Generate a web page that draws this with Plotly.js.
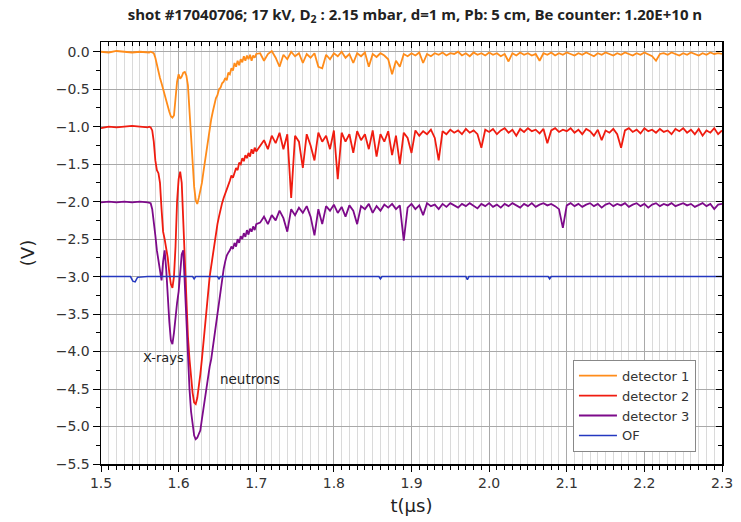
<!DOCTYPE html>
<html>
<head>
<meta charset="utf-8">
<script src="https://cdn.plot.ly/plotly-3.0.1.min.js"></script>
<style>html,body{margin:0;padding:0;background:#fff;}#chart{width:741px;height:522px;}</style>
</head>
<body>
<div id="chart"></div>
<script>
// time (µs)
const tA = [1.50,1.51,1.52,1.53,1.54,1.55,1.56];
const tB = [
1.562,1.564,1.566,1.568,1.570,1.572,1.574,1.576,1.578,1.580,
1.582,1.584,1.586,1.588,1.590,1.592,1.594,1.596,1.598,1.600,
1.602,1.604,1.606,1.608,1.610,1.612,1.614,1.616,1.618,1.620,
1.622,1.624,1.626,1.628,1.630,1.632,1.634,1.636,1.638,1.640,
1.642,1.644,1.646,1.648,1.650,1.652,1.654,1.656,1.658,1.660,
1.662,1.664,1.666,1.668,1.670,1.672,1.674,1.676,1.678,1.680,
1.682,1.684,1.686,1.688,1.690,1.692,1.694,1.696,1.698,1.700];
const tC = [
1.705,1.710,1.715,1.720,1.725,1.730,1.735,1.740,1.745,1.750,
1.755,1.760,1.765,1.770,1.775,1.780,1.785,1.790,1.795,1.800,
1.805,1.810,1.815,1.820,1.825,1.830,1.835,1.840,1.845,1.850,
1.855,1.860,1.865,1.870,1.875,1.880,1.885,1.890,1.895,1.900,
1.905,1.910,1.915,1.920,1.925,1.930,1.935,1.940,1.945,1.950,
1.955,1.960,1.965,1.970,1.975,1.980,1.985,1.990,1.995,2.000,
2.005,2.010,2.015,2.020,2.025,2.030,2.035,2.040,2.045,2.050,
2.055,2.060,2.065,2.070,2.075,2.080,2.085,2.090,2.095,2.100,
2.105,2.110,2.115,2.120,2.125,2.130,2.135,2.140,2.145,2.150,
2.155,2.160,2.165,2.170,2.175,2.180,2.185,2.190,2.195,2.200,
2.205,2.210,2.215,2.220,2.225,2.230,2.235,2.240,2.245,2.250,
2.255,2.260,2.265,2.270,2.275,2.280,2.285,2.290,2.295,2.300];

// detector 1 (V)
const det1A = [0.0,-0.01,0.01,0.0,-0.01,0.0,-0.01];
const det1B = [
-0.01,0.0,-0.01,-0.02,-0.08,-0.18,-0.28,-0.35,-0.42,-0.5,
-0.55,-0.62,-0.72,-0.8,-0.86,-0.88,-0.85,-0.6,-0.4,-0.3,
-0.36,-0.33,-0.28,-0.27,-0.32,-0.45,-0.8,-1.15,-1.5,-1.8,
-1.98,-2.03,-1.95,-1.85,-1.75,-1.6,-1.45,-1.3,-1.15,-1.02,
-0.9,-0.8,-0.7,-0.62,-0.58,-0.5,-0.48,-0.42,-0.4,-0.35,
-0.38,-0.28,-0.3,-0.22,-0.25,-0.15,-0.2,-0.12,-0.18,-0.1,
-0.14,-0.06,-0.12,-0.05,-0.1,-0.04,-0.12,-0.05,-0.08,-0.03];
const det1C = [
-0.02,-0.12,-0.03,0.01,-0.08,-0.2,-0.04,-0.1,0.0,-0.06,
-0.02,-0.15,-0.03,-0.08,-0.02,-0.2,-0.22,-0.04,-0.1,-0.02,
-0.06,0.0,-0.08,-0.03,-0.15,-0.02,-0.06,-0.01,-0.2,-0.03,
-0.07,-0.02,-0.05,-0.1,-0.3,-0.12,-0.2,-0.03,-0.06,-0.02,
-0.05,-0.01,-0.15,-0.03,-0.06,-0.02,-0.04,-0.01,-0.05,-0.02,
-0.03,0.0,-0.05,-0.02,-0.06,-0.01,-0.04,-0.02,-0.05,-0.01,
-0.04,-0.02,-0.06,-0.03,-0.13,-0.02,-0.05,-0.01,-0.04,-0.02,
-0.05,-0.03,-0.12,-0.02,-0.04,-0.01,-0.05,-0.02,-0.04,-0.01,
-0.03,-0.05,-0.02,-0.04,-0.01,-0.03,-0.06,-0.02,-0.04,-0.01,
-0.03,-0.05,-0.02,-0.04,-0.01,-0.03,-0.05,-0.02,-0.04,-0.01,
-0.03,-0.06,-0.12,-0.03,-0.02,-0.04,-0.01,-0.03,-0.05,-0.02,
-0.04,-0.01,-0.03,-0.05,-0.02,-0.04,-0.01,-0.03,-0.02,-0.03];

// detector 2 (V)
const det2A = [-1.02,-1.0,-1.01,-1.0,-0.99,-1.0,-1.01];
const det2B = [
-1.0,-1.01,-1.05,-1.2,-1.45,-1.58,-1.62,-1.75,-2.1,-2.4,
-2.5,-2.6,-2.75,-2.95,-3.1,-3.15,-3.0,-2.6,-2.0,-1.7,
-1.6,-1.75,-2.3,-2.9,-3.4,-3.8,-4.1,-4.35,-4.55,-4.68,
-4.7,-4.62,-4.48,-4.3,-4.1,-3.9,-3.65,-3.45,-3.22,-3.0,
-2.85,-2.7,-2.55,-2.42,-2.3,-2.2,-2.1,-2.02,-1.95,-1.9,
-1.85,-1.78,-1.72,-1.65,-1.68,-1.6,-1.55,-1.58,-1.48,-1.5,
-1.42,-1.46,-1.38,-1.42,-1.35,-1.4,-1.3,-1.36,-1.28,-1.33];
const det2C = [
-1.25,-1.18,-1.3,-1.12,-1.22,-1.08,-1.3,-1.1,-1.95,-1.12,
-1.2,-1.55,-1.1,-1.25,-1.45,-1.08,-1.2,-1.12,-1.3,-1.05,
-1.7,-1.08,-1.2,-1.1,-1.35,-1.06,-1.18,-1.1,-1.3,-1.05,
-1.4,-1.1,-1.2,-1.06,-1.38,-1.12,-1.5,-1.08,-1.15,-1.35,
-1.05,-1.12,-1.06,-1.1,-1.04,-1.15,-1.45,-1.06,-1.1,-1.04,
-1.08,-1.05,-1.1,-1.03,-1.08,-1.05,-1.1,-1.28,-1.04,-1.07,
-1.03,-1.1,-1.05,-1.02,-1.08,-1.04,-1.12,-1.03,-1.07,-1.02,
-1.06,-1.04,-1.09,-1.03,-1.22,-1.05,-1.02,-1.07,-1.04,-1.06,
-1.02,-1.08,-1.04,-1.1,-1.03,-1.06,-1.12,-1.04,-1.18,-1.05,
-1.08,-1.03,-1.1,-1.28,-1.05,-1.02,-1.07,-1.04,-1.09,-1.02,
-1.06,-1.04,-1.08,-1.03,-1.07,-1.05,-1.1,-1.03,-1.06,-1.02,
-1.08,-1.04,-1.1,-1.03,-1.12,-1.05,-1.08,-1.02,-1.1,-1.05];

// detector 3 (V)
const det3A = [-2.01,-2.0,-2.01,-2.0,-2.01,-2.0,-2.01];
const det3B = [
-2.01,-2.02,-2.1,-2.25,-2.45,-2.65,-2.8,-2.95,-3.05,-2.8,
-2.65,-2.9,-3.3,-3.6,-3.85,-3.9,-3.75,-3.5,-3.35,-3.2,
-2.95,-2.7,-2.65,-3.1,-3.7,-4.15,-4.5,-4.8,-5.0,-5.12,
-5.17,-5.15,-5.1,-5.05,-4.9,-4.75,-4.6,-4.45,-4.3,-4.2,
-4.1,-3.95,-3.8,-3.6,-3.45,-3.3,-3.15,-3.0,-2.9,-2.8,
-2.72,-2.68,-2.65,-2.6,-2.63,-2.55,-2.6,-2.5,-2.55,-2.46,
-2.5,-2.42,-2.47,-2.38,-2.44,-2.36,-2.4,-2.33,-2.38,-2.3];
const det3C = [
-2.28,-2.2,-2.3,-2.18,-2.25,-2.12,-2.22,-2.4,-2.1,-2.18,
-2.08,-2.15,-2.06,-2.2,-2.45,-2.1,-2.3,-2.06,-2.12,-2.04,
-2.15,-2.07,-2.2,-2.05,-2.12,-2.3,-2.06,-2.1,-2.03,-2.15,
-2.06,-2.12,-2.04,-2.08,-2.03,-2.1,-2.05,-2.52,-2.08,-2.03,
-2.1,-2.05,-2.18,-2.02,-2.06,-2.04,-2.1,-2.03,-2.07,-2.02,
-2.05,-2.08,-2.03,-2.06,-2.02,-2.05,-2.09,-2.03,-2.06,-2.02,
-2.07,-2.04,-2.08,-2.03,-2.06,-2.02,-2.05,-2.08,-2.03,-2.06,
-2.02,-2.07,-2.04,-2.02,-2.05,-2.03,-2.06,-2.1,-2.35,-2.05,
-2.02,-2.06,-2.03,-2.07,-2.04,-2.02,-2.06,-2.03,-2.08,-2.04,
-2.02,-2.06,-2.03,-2.05,-2.02,-2.07,-2.04,-2.02,-2.06,-2.03,
-2.08,-2.04,-2.02,-2.06,-2.03,-2.05,-2.02,-2.06,-2.04,-2.02,
-2.05,-2.03,-2.07,-2.04,-2.02,-2.06,-2.03,-2.1,-2.04,-2.03];

// OF (V)
const tOF = [1.500,1.520,1.538,1.541,1.544,1.547,1.560,1.600,1.618,1.620,1.622,1.640,
             1.650,1.652,1.654,1.700,1.750,1.800,1.858,1.860,1.862,1.900,
             1.970,1.972,1.974,2.000,2.076,2.078,2.080,2.100,2.200,2.300];
const vOF = [-3.0,-3.0,-3.0,-3.06,-3.07,-3.01,-3.0,-3.0,-3.0,-3.03,-3.0,-3.0,
             -3.0,-3.03,-3.0,-3.0,-3.0,-3.0,-3.0,-3.03,-3.0,-3.0,
             -3.0,-3.04,-3.0,-3.0,-3.0,-3.03,-3.0,-3.0,-3.0,-3.0];

const seriesNames = ['detector 1','detector 2','detector 3','OF'];
const seriesColors = ['#ff8c1a','#f01c10','#7d0a8a','#2438c0'];
const xTickVals = [1.5,1.6,1.7,1.8,1.9,2.0,2.1,2.2,2.3];
const xTickText = ['1.5','1.6','1.7','1.8','1.9','2.0','2.1','2.2','2.3'];

const T = tA.concat(tB, tC);
const ys = [det1A.concat(det1B, det1C), det2A.concat(det2B, det2C), det3A.concat(det3B, det3C)];

const traces = [];
for (let i = 0; i < 3; i++) {
  traces.push({x: T, y: ys[i], type: 'scatter', mode: 'lines', name: seriesNames[i],
               line: {color: seriesColors[i], width: 1.8}, hoverinfo: 'skip'});
}
traces.push({x: tOF, y: vOF, type: 'scatter', mode: 'lines', name: seriesNames[3],
             line: {color: seriesColors[3], width: 1.5}, hoverinfo: 'skip'});
// frame axes (top / right)
traces.push({x: [1.5], y: [-9], xaxis: 'x2', yaxis: 'y', mode: 'lines', showlegend: false, hoverinfo: 'skip'});
traces.push({x: [1.5], y: [-9], xaxis: 'x', yaxis: 'y2', mode: 'lines', showlegend: false, hoverinfo: 'skip'});

const tickFont = {family: 'DejaVu Sans', size: 14, color: '#333'};
const xr = [1.5, 2.3], yr = [-5.5, 0.13];

const layout = {
  width: 741, height: 522,
  margin: {l: 101, r: 19, t: 42, b: 58},
  paper_bgcolor: '#fff', plot_bgcolor: '#fff',
  showlegend: true,
  title: {text: 'shot #17040706; 17 kV, D<sub>2</sub> : 2.15 mbar, d=1 m, Pb: 5 cm, Be counter: 1.20E+10 n',
          font: {family: 'Open Sans', size: 15, color: '#222', weight: 700},
          x: 0.56, xanchor: 'center', y: 0.972, yanchor: 'middle'},
  xaxis: {range: xr, tickvals: xTickVals, ticktext: xTickText, tickfont: tickFont,
          ticks: 'outside', ticklen: 6, tickcolor: '#000', tickwidth: 1,
          showline: true, linecolor: '#000', linewidth: 1.5,
          showgrid: true, gridcolor: '#a9a9a9', gridwidth: 1, zeroline: false,
          minor: {dtick: 0.01, tick0: 1.5, ticks: 'outside', ticklen: 4, tickcolor: '#000',
                  showgrid: true, gridcolor: '#dadada', gridwidth: 1},
          title: {text: 't(µs)', font: {family: 'DejaVu Sans', size: 18, color: '#222'}, standoff: 9}},
  yaxis: {range: yr, dtick: 0.5, tick0: 0, tickformat: '.1f', tickfont: tickFont,
          ticks: 'outside', ticklen: 7, tickcolor: '#000', tickwidth: 1,
          showline: true, linecolor: '#000', linewidth: 1.5,
          showgrid: true, gridcolor: '#a9a9a9', gridwidth: 1, zeroline: false,
          minor: {dtick: 0.25, ticks: 'outside', ticklen: 4, tickcolor: '#000', showgrid: false},
          title: {text: '(V)', font: {family: 'DejaVu Sans', size: 18, color: '#222'}, standoff: 16}},
  xaxis2: {range: xr, overlaying: 'x', side: 'top', anchor: 'y', tickvals: xTickVals,
           showticklabels: false, ticks: 'inside', ticklen: 6, tickcolor: '#000',
           showline: true, linecolor: '#000', linewidth: 1.5, showgrid: false, zeroline: false,
           minor: {dtick: 0.01, tick0: 1.5, ticks: 'inside', ticklen: 4, tickcolor: '#000', showgrid: false}},
  yaxis2: {range: yr, overlaying: 'y', side: 'right', anchor: 'x', dtick: 0.5, tick0: 0,
           showticklabels: false, ticks: 'inside', ticklen: 6, tickcolor: '#000',
           showline: true, linecolor: '#000', linewidth: 1.5, showgrid: false, zeroline: false,
           minor: {dtick: 0.25, ticks: 'inside', ticklen: 4, tickcolor: '#000', showgrid: false}},
  legend: {x: 0.76, y: 0.247, xanchor: 'left', yanchor: 'top',
           bgcolor: '#fff', bordercolor: '#888', borderwidth: 1,
           font: {family: 'DejaVu Sans', size: 13, color: '#333'},
           tracegroupgap: 0, itemwidth: 38},
  annotations: [
    {x: 1.580, y: -4.085, xref: 'x', yref: 'y', text: 'X-rays', showarrow: false,
     font: {family: 'DejaVu Sans', size: 13, color: '#222'}},
    {x: 1.692, y: -4.37, xref: 'x', yref: 'y', text: 'neutrons', showarrow: false,
     font: {family: 'DejaVu Sans', size: 13.5, color: '#222'}}
  ]
};

Plotly.newPlot('chart', traces, layout, {displayModeBar: false, staticPlot: true});
</script>
</body>
</html>
